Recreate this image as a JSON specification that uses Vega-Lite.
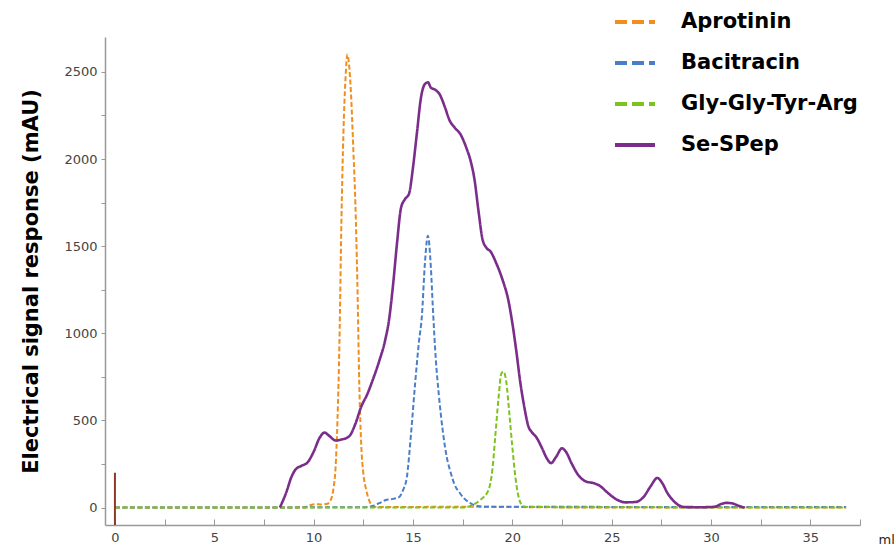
{
  "$schema": "https://vega.github.io/schema/vega-lite/v6.json",
  "width": 755,
  "height": 488,
  "autosize": {"type": "none"},
  "padding": {"left": 105, "top": 37, "right": 34, "bottom": 24},
  "config": {"view": {"stroke": null}, "font": "DejaVu Sans"},
  "datasets": {
    "marker": [{"x": 0, "y": -100, "y2": 200}],
    "curves": [
      {"s": "Aprotinin", "x": 0, "y": 0}, {"s": "Aprotinin", "x": 9.5, "y": 0}, {"s": "Aprotinin", "x": 9.8, "y": 12}, {"s": "Aprotinin", "x": 10.1, "y": 20}, {"s": "Aprotinin", "x": 10.4, "y": 18}, {"s": "Aprotinin", "x": 10.7, "y": 22}, {"s": "Aprotinin", "x": 10.85, "y": 40}, {"s": "Aprotinin", "x": 11.0, "y": 110}, {"s": "Aprotinin", "x": 11.1, "y": 220}, {"s": "Aprotinin", "x": 11.2, "y": 500}, {"s": "Aprotinin", "x": 11.3, "y": 950}, {"s": "Aprotinin", "x": 11.4, "y": 1650}, {"s": "Aprotinin", "x": 11.5, "y": 2150}, {"s": "Aprotinin", "x": 11.6, "y": 2450}, {"s": "Aprotinin", "x": 11.7, "y": 2600}, {"s": "Aprotinin", "x": 11.8, "y": 2520}, {"s": "Aprotinin", "x": 11.9, "y": 2330}, {"s": "Aprotinin", "x": 12.0, "y": 2050}, {"s": "Aprotinin", "x": 12.1, "y": 1750}, {"s": "Aprotinin", "x": 12.2, "y": 1300}, {"s": "Aprotinin", "x": 12.3, "y": 700}, {"s": "Aprotinin", "x": 12.4, "y": 350}, {"s": "Aprotinin", "x": 12.5, "y": 200}, {"s": "Aprotinin", "x": 12.65, "y": 100}, {"s": "Aprotinin", "x": 12.8, "y": 40}, {"s": "Aprotinin", "x": 13.0, "y": 5}, {"s": "Aprotinin", "x": 13.5, "y": 3}, {"s": "Aprotinin", "x": 18, "y": 5}, {"s": "Aprotinin", "x": 20, "y": 3}, {"s": "Aprotinin", "x": 25, "y": 0}, {"s": "Aprotinin", "x": 36.8, "y": 0},
      {"s": "Bacitracin", "x": 0, "y": 0}, {"s": "Bacitracin", "x": 12.5, "y": 2}, {"s": "Bacitracin", "x": 13.0, "y": 10}, {"s": "Bacitracin", "x": 13.3, "y": 25}, {"s": "Bacitracin", "x": 13.6, "y": 42}, {"s": "Bacitracin", "x": 14.0, "y": 50}, {"s": "Bacitracin", "x": 14.3, "y": 60}, {"s": "Bacitracin", "x": 14.5, "y": 100}, {"s": "Bacitracin", "x": 14.7, "y": 180}, {"s": "Bacitracin", "x": 14.9, "y": 420}, {"s": "Bacitracin", "x": 15.1, "y": 700}, {"s": "Bacitracin", "x": 15.3, "y": 950}, {"s": "Bacitracin", "x": 15.45, "y": 1100}, {"s": "Bacitracin", "x": 15.6, "y": 1400}, {"s": "Bacitracin", "x": 15.75, "y": 1560}, {"s": "Bacitracin", "x": 15.9, "y": 1380}, {"s": "Bacitracin", "x": 16.0, "y": 1150}, {"s": "Bacitracin", "x": 16.15, "y": 850}, {"s": "Bacitracin", "x": 16.3, "y": 650}, {"s": "Bacitracin", "x": 16.5, "y": 440}, {"s": "Bacitracin", "x": 16.7, "y": 290}, {"s": "Bacitracin", "x": 16.9, "y": 200}, {"s": "Bacitracin", "x": 17.1, "y": 130}, {"s": "Bacitracin", "x": 17.35, "y": 85}, {"s": "Bacitracin", "x": 17.6, "y": 50}, {"s": "Bacitracin", "x": 17.85, "y": 28}, {"s": "Bacitracin", "x": 18.2, "y": 10}, {"s": "Bacitracin", "x": 18.6, "y": 5}, {"s": "Bacitracin", "x": 36.8, "y": 3},
      {"s": "Gly-Gly-Tyr-Arg", "x": 0, "y": 0}, {"s": "Gly-Gly-Tyr-Arg", "x": 17.5, "y": 0}, {"s": "Gly-Gly-Tyr-Arg", "x": 18.0, "y": 15}, {"s": "Gly-Gly-Tyr-Arg", "x": 18.4, "y": 45}, {"s": "Gly-Gly-Tyr-Arg", "x": 18.8, "y": 100}, {"s": "Gly-Gly-Tyr-Arg", "x": 19.0, "y": 220}, {"s": "Gly-Gly-Tyr-Arg", "x": 19.15, "y": 420}, {"s": "Gly-Gly-Tyr-Arg", "x": 19.3, "y": 620}, {"s": "Gly-Gly-Tyr-Arg", "x": 19.45, "y": 770}, {"s": "Gly-Gly-Tyr-Arg", "x": 19.55, "y": 780}, {"s": "Gly-Gly-Tyr-Arg", "x": 19.7, "y": 720}, {"s": "Gly-Gly-Tyr-Arg", "x": 19.85, "y": 540}, {"s": "Gly-Gly-Tyr-Arg", "x": 20.0, "y": 350}, {"s": "Gly-Gly-Tyr-Arg", "x": 20.15, "y": 180}, {"s": "Gly-Gly-Tyr-Arg", "x": 20.3, "y": 70}, {"s": "Gly-Gly-Tyr-Arg", "x": 20.45, "y": 20}, {"s": "Gly-Gly-Tyr-Arg", "x": 20.7, "y": 3}, {"s": "Gly-Gly-Tyr-Arg", "x": 36.8, "y": 0},
      {"s": "Se-SPep", "x": 8.3, "y": 0}, {"s": "Se-SPep", "x": 8.6, "y": 80}, {"s": "Se-SPep", "x": 8.9, "y": 180}, {"s": "Se-SPep", "x": 9.1, "y": 220}, {"s": "Se-SPep", "x": 9.4, "y": 240}, {"s": "Se-SPep", "x": 9.7, "y": 260}, {"s": "Se-SPep", "x": 10.0, "y": 320}, {"s": "Se-SPep", "x": 10.3, "y": 400}, {"s": "Se-SPep", "x": 10.55, "y": 430}, {"s": "Se-SPep", "x": 10.8, "y": 410}, {"s": "Se-SPep", "x": 11.1, "y": 385}, {"s": "Se-SPep", "x": 11.4, "y": 390}, {"s": "Se-SPep", "x": 11.8, "y": 410}, {"s": "Se-SPep", "x": 12.1, "y": 480}, {"s": "Se-SPep", "x": 12.4, "y": 580}, {"s": "Se-SPep", "x": 12.7, "y": 650}, {"s": "Se-SPep", "x": 13.0, "y": 740}, {"s": "Se-SPep", "x": 13.3, "y": 840}, {"s": "Se-SPep", "x": 13.6, "y": 960}, {"s": "Se-SPep", "x": 13.8, "y": 1080}, {"s": "Se-SPep", "x": 14.0, "y": 1280}, {"s": "Se-SPep", "x": 14.2, "y": 1520}, {"s": "Se-SPep", "x": 14.4, "y": 1720}, {"s": "Se-SPep", "x": 14.6, "y": 1770}, {"s": "Se-SPep", "x": 14.8, "y": 1800}, {"s": "Se-SPep", "x": 15.0, "y": 1950}, {"s": "Se-SPep", "x": 15.2, "y": 2150}, {"s": "Se-SPep", "x": 15.4, "y": 2350}, {"s": "Se-SPep", "x": 15.6, "y": 2430}, {"s": "Se-SPep", "x": 15.75, "y": 2440}, {"s": "Se-SPep", "x": 15.9, "y": 2410}, {"s": "Se-SPep", "x": 16.15, "y": 2395}, {"s": "Se-SPep", "x": 16.35, "y": 2370}, {"s": "Se-SPep", "x": 16.6, "y": 2300}, {"s": "Se-SPep", "x": 16.85, "y": 2220}, {"s": "Se-SPep", "x": 17.1, "y": 2180}, {"s": "Se-SPep", "x": 17.4, "y": 2140}, {"s": "Se-SPep", "x": 17.7, "y": 2060}, {"s": "Se-SPep", "x": 17.9, "y": 1990}, {"s": "Se-SPep", "x": 18.1, "y": 1880}, {"s": "Se-SPep", "x": 18.3, "y": 1700}, {"s": "Se-SPep", "x": 18.5, "y": 1540}, {"s": "Se-SPep", "x": 18.7, "y": 1490}, {"s": "Se-SPep", "x": 18.9, "y": 1470}, {"s": "Se-SPep", "x": 19.2, "y": 1400}, {"s": "Se-SPep", "x": 19.5, "y": 1310}, {"s": "Se-SPep", "x": 19.8, "y": 1190}, {"s": "Se-SPep", "x": 20.0, "y": 1060}, {"s": "Se-SPep", "x": 20.2, "y": 900}, {"s": "Se-SPep", "x": 20.4, "y": 720}, {"s": "Se-SPep", "x": 20.6, "y": 580}, {"s": "Se-SPep", "x": 20.8, "y": 470}, {"s": "Se-SPep", "x": 21.0, "y": 430}, {"s": "Se-SPep", "x": 21.2, "y": 405}, {"s": "Se-SPep", "x": 21.5, "y": 340}, {"s": "Se-SPep", "x": 21.75, "y": 280}, {"s": "Se-SPep", "x": 21.95, "y": 255}, {"s": "Se-SPep", "x": 22.2, "y": 290}, {"s": "Se-SPep", "x": 22.5, "y": 340}, {"s": "Se-SPep", "x": 22.7, "y": 320}, {"s": "Se-SPep", "x": 23.0, "y": 250}, {"s": "Se-SPep", "x": 23.3, "y": 190}, {"s": "Se-SPep", "x": 23.7, "y": 150}, {"s": "Se-SPep", "x": 24.1, "y": 140}, {"s": "Se-SPep", "x": 24.4, "y": 125}, {"s": "Se-SPep", "x": 24.8, "y": 85}, {"s": "Se-SPep", "x": 25.2, "y": 50}, {"s": "Se-SPep", "x": 25.7, "y": 30}, {"s": "Se-SPep", "x": 26.2, "y": 32}, {"s": "Se-SPep", "x": 26.6, "y": 60}, {"s": "Se-SPep", "x": 26.95, "y": 120}, {"s": "Se-SPep", "x": 27.3, "y": 170}, {"s": "Se-SPep", "x": 27.55, "y": 140}, {"s": "Se-SPep", "x": 27.8, "y": 85}, {"s": "Se-SPep", "x": 28.1, "y": 40}, {"s": "Se-SPep", "x": 28.4, "y": 12}, {"s": "Se-SPep", "x": 28.7, "y": 3}, {"s": "Se-SPep", "x": 29.5, "y": 2}, {"s": "Se-SPep", "x": 30.2, "y": 5}, {"s": "Se-SPep", "x": 30.5, "y": 20}, {"s": "Se-SPep", "x": 30.8, "y": 27}, {"s": "Se-SPep", "x": 31.1, "y": 23}, {"s": "Se-SPep", "x": 31.4, "y": 10}, {"s": "Se-SPep", "x": 31.7, "y": 0}
    ]
  },
  "layer": [
    {
      "data": {"name": "curves"},
      "mark": {"type": "line", "interpolate": "monotone"},
      "encoding": {
        "x": {
          "field": "x", "type": "quantitative",
          "scale": {"domain": [-0.5, 37.5], "nice": false, "zero": false},
          "axis": {
            "values": [0, 2.5, 5, 7.5, 10, 12.5, 15, 17.5, 20, 22.5, 25, 27.5, 30, 32.5, 35, 37.5],
            "labelExpr": "datum.value % 5 === 0 ? datum.label : ''",
            "title": "ml", "titleX": 773, "titleY": 8, "titleAlign": "left", "titleAnchor": "start",
            "titleFontSize": 13, "titleFontWeight": "normal", "titleColor": "#222",
            "grid": false, "domainColor": "#999", "domainWidth": 1.5, "tickColor": "#999", "tickSize": -6,
            "labelColor": "#444", "labelFontSize": 13, "labelPadding": 12
          }
        },
        "y": {
          "field": "y", "type": "quantitative",
          "scale": {"domain": [-100, 2700], "nice": false, "zero": false},
          "axis": {
            "values": [0, 250, 500, 750, 1000, 1250, 1500, 1750, 2000, 2250, 2500],
            "format": "d",
            "labelExpr": "datum.value % 500 === 0 ? datum.label : ''",
            "title": "Electrical signal response (mAU)", "titleFontSize": 21, "titleFontWeight": "bold", "titleColor": "#000", "titlePadding": 22,
            "grid": false, "domainColor": "#999", "domainWidth": 1.5, "tickColor": "#999", "tickSize": 4,
            "labelColor": "#444", "labelFontSize": 13, "labelPadding": 4
          }
        },
        "detail": {"field": "s"},
        "color": {
          "field": "s", "type": "nominal",
          "scale": {"domain": ["Aprotinin", "Bacitracin", "Gly-Gly-Tyr-Arg", "Se-SPep"], "range": ["#F28E1E", "#4A7EC8", "#7DC31E", "#7B2D8B"]},
          "legend": {
            "title": null, "orient": "none", "legendX": 508, "legendY": -37,
            "symbolType": "stroke", "symbolSize": 1600, "symbolStrokeWidth": 4,
            "labelFontSize": 21, "labelFontWeight": "bold", "labelColor": "#000", "labelOffset": 24, "rowPadding": 9, "labelLimit": 400,
            "encode": {"symbols": {"update": {"strokeDash": {"signal": "datum.value === 'Se-SPep' ? [1, 0] : [12, 5]"}, "strokeWidth": {"value": 4}}}}
          }
        },
        "strokeDash": {
          "condition": {"test": "datum.s === 'Se-SPep'", "value": [1, 0]},
          "value": [5, 2.5]
        },
        "strokeWidth": {
          "condition": {"test": "datum.s === 'Se-SPep'", "value": 2.6},
          "value": 2
        }
      }
    },
    {
      "data": {"name": "marker"},
      "mark": {"type": "rule", "color": "#8B3A2A", "strokeWidth": 2},
      "encoding": {
        "x": {"field": "x", "type": "quantitative"},
        "y": {"field": "y", "type": "quantitative"},
        "y2": {"field": "y2"}
      }
    }
  ]
}
